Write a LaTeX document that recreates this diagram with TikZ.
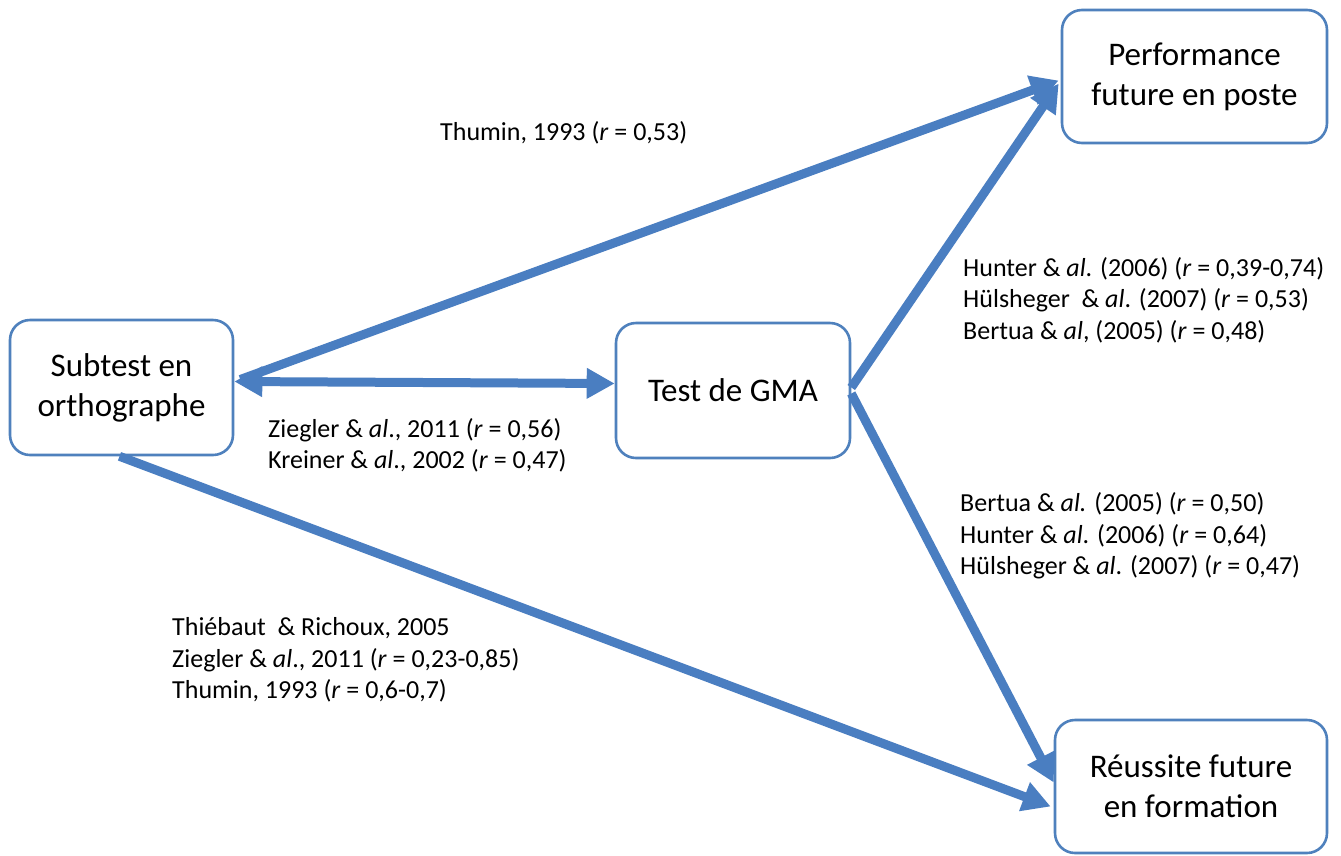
\documentclass[tikz,border=0pt]{standalone}
\usepackage{fontspec}
\setmainfont{Carlito}
\usetikzlibrary{arrows.meta}
\definecolor{boxblue}{RGB}{79,129,189}
\definecolor{arrblue}{RGB}{74,126,193}
\begin{document}
\begin{tikzpicture}[x=1pt,y=-1pt,
  box/.style={draw=boxblue, line width=2.6pt, rounded corners=20pt, fill=white,
    align=center, font=\fontsize{33}{40}\selectfont, inner sep=0pt},
  conn/.style={draw=arrblue, line width=9pt,
    -{Triangle[length=28pt,width=29pt]}},
  biconn/.style={draw=arrblue, line width=9pt,
    {Triangle[length=28pt,width=29pt]}-{Triangle[length=28pt,width=29pt]}},
  lbl/.style={anchor=west, align=left, inner sep=0pt,
    font=\fontsize{26}{31.5}\selectfont}]
\useasboundingbox (0,0) rectangle (1341,855);
\fill[white] (0,0) rectangle (1341,855);

\node[box, minimum width=223pt, minimum height=135pt] (sub) at (121.5,387.5) {Subtest en\\orthographe};
\node[box, minimum width=234pt, minimum height=135pt] (gma) at (733,390.5) {Test de GMA};
\node[box, minimum width=265pt, minimum height=133pt] (perf) at (1194.5,76.5) {Performance\\future en poste};
\node[box, minimum width=272pt, minimum height=133pt] (reu) at (1191,786.5) {Réussite future\\en formation};

\draw[conn] ([xshift=6pt,yshift=8pt]sub.east) -- ([xshift=-2pt,yshift=-4pt]perf.west);
\draw[biconn] ([yshift=6pt]sub.east) -- ([yshift=7pt]gma.west);
\draw[conn] ([xshift=-2pt]sub.south) -- ([xshift=-3pt,yshift=-20pt]reu.west);
\draw[conn] ([yshift=3pt]gma.east) -- ([xshift=-2pt,yshift=-7pt]perf.west);
\draw[conn] ([yshift=-3pt]gma.east) -- ([xshift=0pt,yshift=4pt]reu.west);

\node[lbl] (l1) at (440,133) {Thumin, 1993 (\textit{r} = 0,53)};
\node[lbl] (l2) at (963,300) {Hunter \& \textit{al}. (2006) (\textit{r} = 0,39-0,74)\\Hülsheger \ \& \textit{al}. (2007) (\textit{r} = 0,53)\\Bertua \& \textit{al}, (2005) (\textit{r} = 0,48)};
\node[lbl] (l3) at (268,445.5) {Ziegler \& \textit{al}., 2011 (\textit{r} = 0,56)\\Kreiner \& \textit{al}., 2002 (\textit{r} = 0,47)};
\node[lbl] (l4) at (960,536) {Bertua \& \textit{al.} (2005) (\textit{r} = 0,50)\\Hunter \& \textit{al}. (2006) (\textit{r} = 0,64)\\Hülsheger \& \textit{al}. (2007) (\textit{r} = 0,47)};
\node[lbl] (l5) at (172,660) {Thiébaut \ \& Richoux, 2005\\Ziegler \& \textit{al}., 2011 (\textit{r} = 0,23-0,85)\\Thumin, 1993 (\textit{r} = 0,6-0,7)};
\end{tikzpicture}
\end{document}
